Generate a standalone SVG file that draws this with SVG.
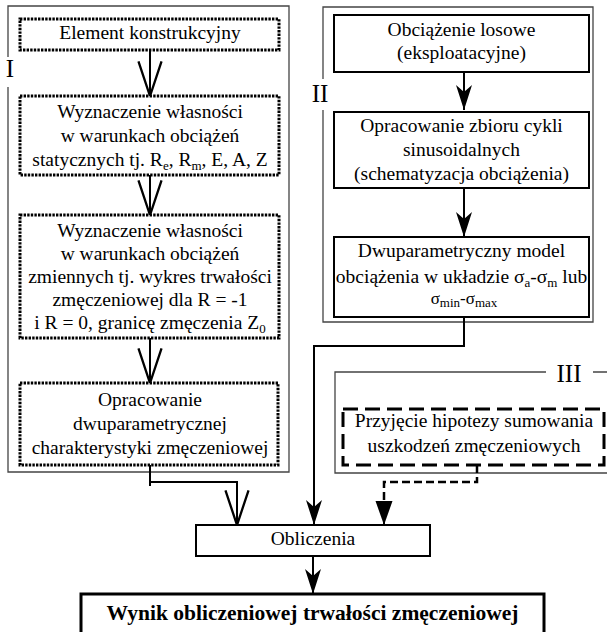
<svg xmlns="http://www.w3.org/2000/svg" width="607" height="632" viewBox="0 0 607 632">
<style>
text{font-family:"Liberation Serif","Times New Roman",serif;font-size:19.5px;fill:#000;text-anchor:middle}
.sub{font-size:13px}
.lab{font-size:25px;text-anchor:middle}
.bold{font-weight:bold;font-size:21.5px}
.panel{fill:none;stroke:#444;stroke-width:1.3}
.dot{fill:#fff;stroke:#000;stroke-width:3;stroke-dasharray:2.4 1.2}
.solid{fill:#fff;stroke:#000;stroke-width:2}
.dash{fill:#fff;stroke:#000;stroke-width:3;stroke-dasharray:15 7}
.thick{fill:#fff;stroke:#000;stroke-width:3}
.ln{fill:none;stroke:#000;stroke-width:2}
.dln{fill:none;stroke:#000;stroke-width:2.5;stroke-dasharray:8 4}
</style>
<defs>
<marker id="vopen" markerUnits="userSpaceOnUse" markerWidth="40" markerHeight="30" refX="0" refY="0" viewBox="-32 -13 34 26" orient="auto" overflow="visible">
<path d="M-30,-10 L0,0 L-30,10" fill="none" stroke="#000" stroke-width="2"/>
</marker>
<marker id="swept" markerUnits="userSpaceOnUse" markerWidth="30" markerHeight="20" refX="0" refY="0" viewBox="-26 -10 28 20" orient="auto" overflow="visible">
<path d="M0,0 L-25,-8 L-18,0 L-25,8 Z" fill="#000"/>
</marker>
<marker id="tri" markerUnits="userSpaceOnUse" markerWidth="30" markerHeight="20" refX="0" refY="0" viewBox="-26 -10 28 20" orient="auto" overflow="visible">
<path d="M0,0 L-24,-8.5 L-24,8.5 Z" fill="#000"/>
</marker>
</defs>

<g id="panels">
<path class="panel" d="M8,57 L8,6 L289,6 L289,472 L8,472 L8,87"/>
<text class="lab" x="10" y="77">I</text>
<path class="panel" d="M323,79 L323,7 L593,7 L593,322 L323,322 L323,110"/>
<text class="lab" x="320" y="102">II</text>
<path class="panel" d="M546,372 L335,372 L335,473 L607,473 M593,372 L607,372"/>
<text class="lab" x="569" y="382">III</text>
</g>

<g id="connectors">
<line class="ln" x1="150" y1="50" x2="150" y2="96" marker-end="url(#vopen)"/>
<line class="ln" x1="150" y1="175" x2="150" y2="215" marker-end="url(#vopen)"/>
<line class="ln" x1="150" y1="338" x2="150" y2="383" marker-end="url(#vopen)"/>
<path class="ln" d="M150,465 L150,486"/>
<path class="ln" d="M150,482 L237,482 L237,525" marker-end="url(#vopen)"/>
<line class="ln" x1="464" y1="72" x2="464" y2="110" marker-end="url(#swept)"/>
<line class="ln" x1="464" y1="188" x2="464" y2="237" marker-end="url(#swept)"/>
<path class="ln" d="M464,317 L464,346 L314,346 L314,525" marker-end="url(#swept)"/>
<path class="dln" d="M477,465 L477,482 L384,482 L384,510"/>
<line class="ln" x1="384" y1="505" x2="384" y2="525" marker-end="url(#tri)"/>
<line class="ln" x1="313" y1="556" x2="313" y2="594" marker-end="url(#swept)"/>
</g>

<g id="n1">
<rect class="dot" x="20" y="19" width="259" height="31"/>
<text x="150" y="39">Element konstrukcyjny</text>
</g>
<g id="n2">
<rect class="dot" x="20" y="96" width="259" height="79"/>
<text x="150" y="118">Wyznaczenie własności</text>
<text x="150" y="142">w warunkach obciążeń</text>
<text x="150" y="166">statycznych tj. R<tspan class="sub" dy="4">e</tspan><tspan dy="-4">, R</tspan><tspan class="sub" dy="4">m</tspan><tspan dy="-4">, E, A, Z</tspan></text>
</g>
<g id="n3">
<rect class="dot" x="20" y="215" width="259" height="123"/>
<text x="150" y="237">Wyznaczenie własności</text>
<text x="150" y="260">w warunkach obciążeń</text>
<text x="150" y="283">zmiennych tj. wykres trwałości</text>
<text x="150" y="306">zmęczeniowej dla R = -1</text>
<text x="150" y="329">i R = 0, granicę zmęczenia Z<tspan class="sub" dy="4">0</tspan></text>
</g>
<g id="n4">
<rect class="dot" x="20" y="383" width="258" height="82"/>
<text x="150" y="406">Opracowanie</text>
<text x="150" y="430">dwuparametrycznej</text>
<text x="150" y="454">charakterystyki zmęczeniowej</text>
</g>

<g id="n5">
<rect class="solid" x="334" y="15" width="255" height="57"/>
<text x="461.5" y="36">Obciążenie losowe</text>
<text x="461.5" y="59">(eksploatacyjne)</text>
</g>
<g id="n6">
<rect class="solid" x="334" y="112" width="255" height="76"/>
<text x="461.5" y="132">Opracowanie zbioru cykli</text>
<text x="461.5" y="156">sinusoidalnych</text>
<text x="461.5" y="180">(schematyzacja obciążenia)</text>
</g>
<g id="n7">
<rect class="solid" x="334" y="237" width="255" height="80"/>
<text x="461.5" y="257">Dwuparametryczny model</text>
<text x="461.5" y="283">obciążenia w układzie σ<tspan class="sub" dy="4">a</tspan><tspan dy="-4">-σ</tspan><tspan class="sub" dy="4">m</tspan><tspan dy="-4"> lub</tspan></text>
<text x="464" y="304" style="font-size:17px">σ<tspan class="sub" dy="3">min</tspan><tspan dy="-3">-σ</tspan><tspan class="sub" dy="3">max</tspan></text>
</g>

<g id="n8">
<rect class="dash" x="343" y="409" width="261" height="56"/>
<text x="474" y="427">Przyjęcie hipotezy sumowania</text>
<text x="474" y="452">uszkodzeń zmęczeniowych</text>
</g>

<g id="n9">
<rect class="solid" x="196" y="525" width="234" height="31"/>
<text x="313" y="545">Obliczenia</text>
</g>
<g id="n10">
<rect class="thick" x="81" y="594" width="463" height="50"/>
<text class="bold" x="312.5" y="620">Wynik obliczeniowej trwałości zmęczeniowej</text>
</g>
</svg>
